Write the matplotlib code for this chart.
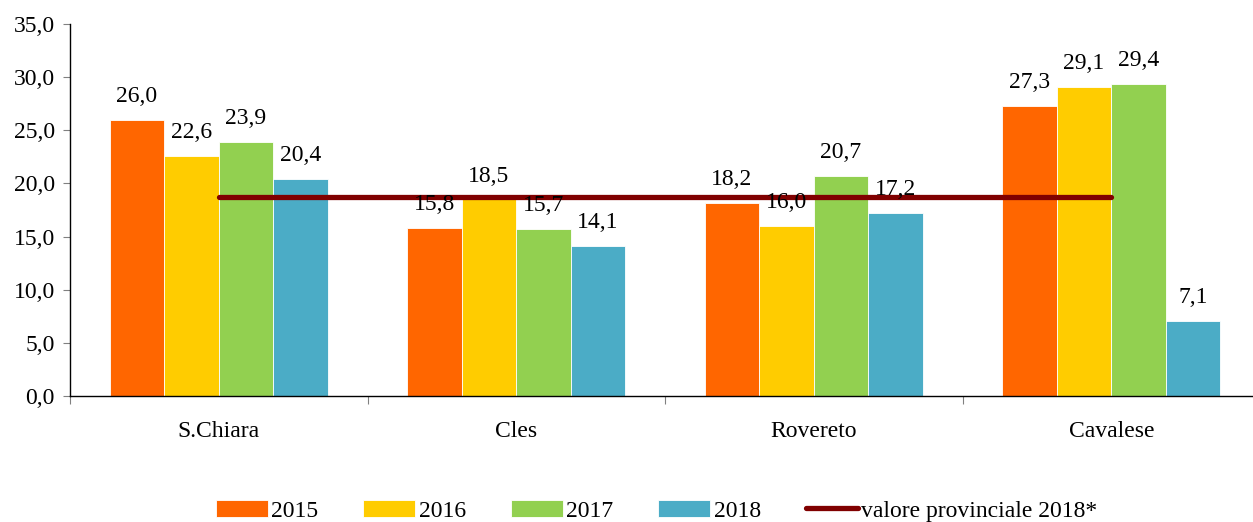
import numpy as np
import matplotlib.pyplot as plt
from matplotlib.ticker import FixedLocator, FuncFormatter

# Data
sedi = ['S.Chiara', 'Cles', 'Rovereto', 'Cavalese']
anni = ['2015', '2016', '2017', '2018']
v2015 = [26.0, 15.8, 18.2, 27.3]
v2016 = [22.6, 18.5, 16.0, 29.1]
v2017 = [23.9, 15.7, 20.7, 29.4]
v2018 = [20.4, 14.1, 17.2, 7.1]
valore_prov = 18.7

colori = ['#FF6600', '#FFCC00', '#92D050', '#4BACC6']
serie = [v2015, v2016, v2017, v2018]

plt.rcParams['font.family'] = ['Liberation Serif', 'DejaVu Serif']
fs = 17

fig = plt.figure(figsize=(12.53, 5.22), dpi=100)
ax = fig.add_axes([70/1253, 126/522, 1183/1253, 372/522])

x = np.arange(len(sedi))
w = 0.733 / 4
for k in range(4):
    pos = x - 1.5*w + k*w
    bars = ax.bar(pos, serie[k], w, color=colori[k], edgecolor='white',
                  linewidth=0.6, label=anni[k], zorder=2)
    for b, v in zip(bars, serie[k]):
        ax.text(b.get_x() + b.get_width()/2, v + 1.2, f'{v:.1f}'.replace('.', ','),
                ha='center', va='bottom', fontsize=fs, zorder=4)

ax.plot([x[0], x[-1]], [valore_prov, valore_prov], color='#800000', lw=3.8,
        solid_capstyle='round', label='valore provinciale 2018*', zorder=3)

ax.set_xlim(-0.5, 3.5 - 7/297.5)
ax.set_ylim(0, 35)
ax.set_yticks(np.arange(0, 35.1, 5))
ax.yaxis.set_major_formatter(FuncFormatter(lambda v, p: f'{v:.1f}'.replace('.', ',')))
ax.set_xticks(x)
ax.set_xticklabels(sedi)
ax.xaxis.set_minor_locator(FixedLocator([-0.5, 0.5, 1.5, 2.5]))
ax.tick_params(axis='x', which='major', length=0, pad=18, labelsize=fs)
ax.tick_params(axis='x', which='minor', length=6, width=0.8, color='#808080')
ax.tick_params(axis='y', length=5, width=0.8, color='#808080', labelsize=fs, pad=6)

for s in ['top', 'right']:
    ax.spines[s].set_visible(False)
ax.spines['left'].set_linewidth(1)
ax.spines['bottom'].set_linewidth(1)

h, l = ax.get_legend_handles_labels()
order = [1, 2, 3, 4, 0]
fig.legend([h[i] for i in order], [l[i] for i in order], loc='lower center',
           bbox_to_anchor=(0.524, -0.04), ncol=5, frameon=False, fontsize=fs,
           handlelength=2.2, handletextpad=0.15, columnspacing=1.9)

fig.savefig('out.png', dpi=100)
